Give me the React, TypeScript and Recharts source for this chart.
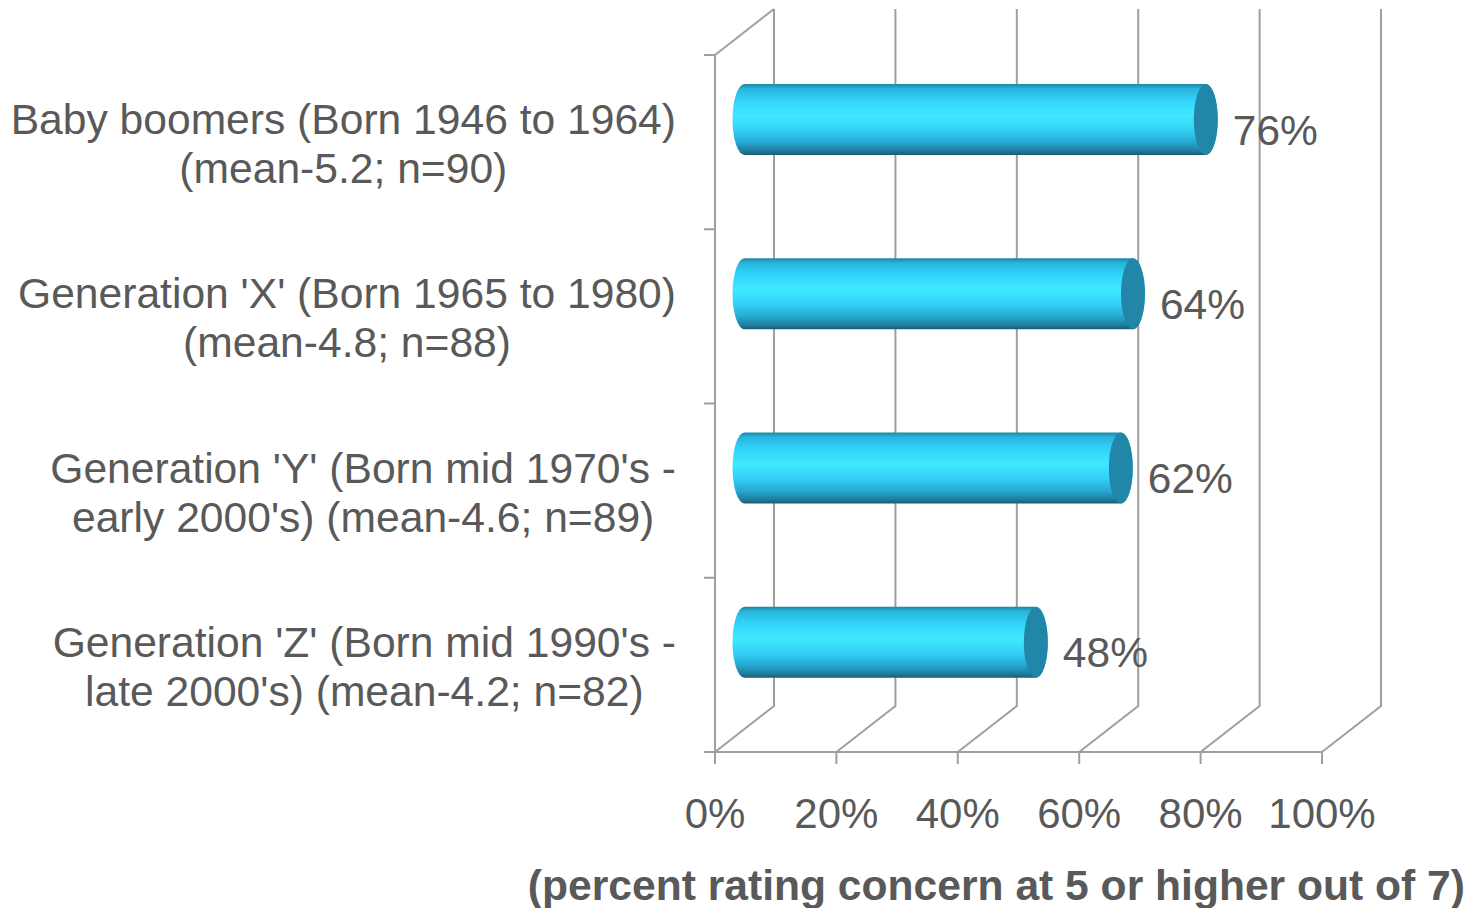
import React from 'react';
import { BarChart, Bar, XAxis, YAxis, CartesianGrid, LabelList } from 'recharts';

// Survey groups (two-line labels), share rating concern >= 5, and axis ticks
const groups = [
  "Baby boomers (Born 1946 to 1964)\n(mean-5.2; n=90)",
  "Generation 'X' (Born 1965 to 1980)\n(mean-4.8; n=88)",
  "Generation 'Y' (Born mid 1970's -\nearly 2000's) (mean-4.6; n=89)",
  "Generation 'Z' (Born mid 1990's -\nlate 2000's) (mean-4.2; n=82)",
];
const shares = [0.76, 0.64, 0.62, 0.48];
const percentTicks = [0, 0.2, 0.4, 0.6, 0.8, 1];
const axisTitle = '(percent rating concern at 5 or higher out of 7)';

const rows = groups.map((group, i) => ({ group, share: shares[i] }));

// Layout and styling
const CHART_W = 1467;
const CHART_H = 900;
const Y_AXIS_W = 707;
const X_AXIS_H = 156;
const DX = 59; // depth offset of the back wall
const DY = -46;
const RX = 12; // horizontal radius of the cylinder ends
const TEXT = '#595959';
const GRID = '#9f9f9f';
const FONT = '"Liberation Sans", Arial, sans-serif';
const CAT_SIZE = 42.6;
const LABEL_GAP = 39;
const LINE_H = 49;

let measureCtx: CanvasRenderingContext2D | null = null;
const textWidth = (s: string, size: number) => {
  if (!measureCtx) measureCtx = document.createElement('canvas').getContext('2d');
  if (!measureCtx) return s.length * size * 0.5;
  measureCtx.font = `${size}px ${FONT}`;
  return measureCtx.measureText(s).width;
};

// 3D gridline: front floor edge -> back wall, plus left wall edges
const GridLine3D = (props: any) => {
  const { x1, y1, y2, index } = props;
  const top = Math.min(y1, y2);
  const bottom = Math.max(y1, y2);
  const bx = x1 + DX;
  const isFirst = index === 0 || (props.x !== undefined && Math.abs(x1 - props.x) < 0.5);
  const step = (bottom - top) / groups.length;
  return (
    <g key={`g3d-${index}`}>
      <polyline
        points={`${x1},${bottom} ${bx},${bottom + DY} ${bx},${top + DY}`}
        fill="none"
        stroke={GRID}
        strokeWidth={2}
      />
      {isFirst && (
        <line x1={x1} y1={top} x2={bx} y2={top + DY} stroke={GRID} strokeWidth={2} />
      )}
      {isFirst &&
        groups.concat(['']).map((_, i) => (
          <line
            key={`wt-${i}`}
            x1={x1 - 11}
            y1={top + i * step}
            x2={x1}
            y2={top + i * step}
            stroke={GRID}
            strokeWidth={2}
          />
        ))}
    </g>
  );
};

const Cylinder = (props: any) => {
  const { x, y, width, height, index } = props;
  const xl = x + DX / 2;
  const xr = x + width + DX / 2;
  const top = y + DY / 2;
  const ry = height / 2;
  const gid = `cylBody-${index}`;
  const d = `M${xl},${top} L${xr},${top} A${RX},${ry} 0 0 1 ${xr},${top + height} L${xl},${top + height} A${RX},${ry} 0 0 1 ${xl},${top} Z`;
  return (
    <g>
      <defs>
        <linearGradient id={gid} x1="0" y1="0" x2="0" y2="1">
          <stop offset="0" stopColor="#1e86a8" />
          <stop offset="0.07" stopColor="#27b6df" />
          <stop offset="0.25" stopColor="#33d6fb" />
          <stop offset="0.45" stopColor="#40e8ff" />
          <stop offset="0.65" stopColor="#33d0f6" />
          <stop offset="0.82" stopColor="#27a9d2" />
          <stop offset="0.94" stopColor="#1f7e9e" />
          <stop offset="1" stopColor="#1a5c72" />
        </linearGradient>
      </defs>
      <path d={d} fill={`url(#${gid})`} />
      <ellipse cx={xr} cy={top + ry} rx={RX} ry={ry} fill="#2186a7" />
    </g>
  );
};

const ValueLabel = (props: any) => {
  const { x, y, width, height, value } = props;
  return (
    <text
      x={x + width + DX / 2 + 27}
      y={y + height / 2 + 2}
      fill={TEXT}
      fontSize={42.5}
      fontFamily={FONT}
      textAnchor="start"
    >
      {`${Math.round(value * 100)}%`}
    </text>
  );
};

const CategoryTick = (props: any) => {
  const { x, y, payload } = props;
  const lines = String(payload.value).split('\n');
  const widest = Math.max(...lines.map((l) => textWidth(l, CAT_SIZE)));
  const cx = x - LABEL_GAP - widest / 2;
  return (
    <text textAnchor="middle" fill={TEXT} fontSize={CAT_SIZE} fontFamily={FONT}>
      {lines.map((l, i) => (
        <tspan key={i} x={cx} y={y - 8 + i * LINE_H}>
          {l}
        </tspan>
      ))}
    </text>
  );
};

const PercentTick = (props: any) => {
  const { x, y, payload } = props;
  return (
    <text x={x} y={y + 64} textAnchor="middle" fill={TEXT} fontSize={42} fontFamily={FONT}>
      {`${Math.round(payload.value * 100)}%`}
    </text>
  );
};

const AxisTitle = () => (
  <text
    x={CHART_W - 10}
    y={892}
    textAnchor="end"
    fill={TEXT}
    fontSize={42.6}
    fontWeight="bold"
    fontFamily={FONT}
  >
    {axisTitle}
  </text>
);

export default function App() {
  return (
    <div style={{ fontFamily: FONT, background: '#fff' }}>
      <BarChart
        width={CHART_W}
        height={CHART_H}
        data={rows}
        layout="vertical"
        margin={{ top: 47, right: 153, bottom: 0, left: 0 }}
        barSize={71}
      >
        <CartesianGrid horizontal={false} vertical={GridLine3D} />
        <XAxis
          type="number"
          domain={[0, 1]}
          ticks={percentTicks}
          height={X_AXIS_H}
          tickSize={12}
          tickMargin={0}
          axisLine={{ stroke: GRID, strokeWidth: 2 }}
          tickLine={{ stroke: GRID, strokeWidth: 2 }}
          tick={PercentTick}
          interval={0}
          label={{ content: AxisTitle }}
        />
        <YAxis
          type="category"
          dataKey="group"
          width={Y_AXIS_W}
          tickSize={0}
          tickMargin={0}
          tickLine={false}
          axisLine={{ stroke: GRID, strokeWidth: 2 }}
          tick={CategoryTick}
          interval={0}
        />
        <Bar dataKey="share" shape={Cylinder} isAnimationActive={false}>
          <LabelList dataKey="share" content={ValueLabel} />
        </Bar>
      </BarChart>
    </div>
  );
}
